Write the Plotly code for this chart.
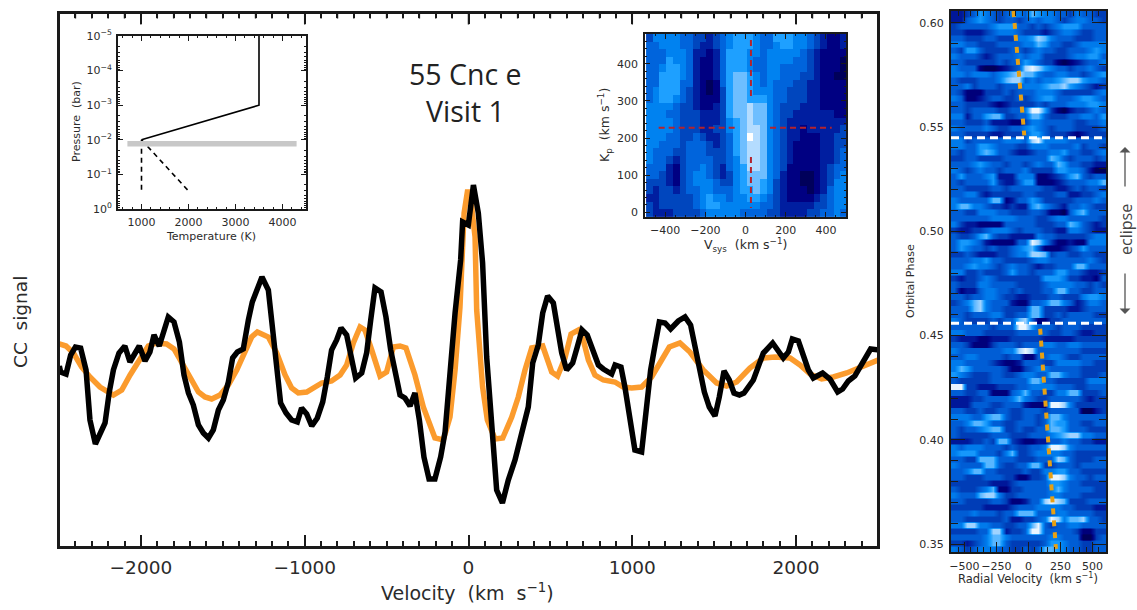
import plotly.graph_objects as go

W, H = 1137, 610

# ---- main cross-correlation panel ----
black_velocity = [-2498,-2490,-2457,-2429,-2400,-2368,-2335,-2311,-2278,-2250,-2219,-2193,-2168,-2134,-2098,-2067,-2010,-1975,-1945,-1920,-1888,-1833,-1798,-1765,-1737,-1710,-1680,-1649,-1619,-1588,-1558,-1527,-1497,-1466,-1440,-1411,-1375,-1344,-1320,-1261,-1222,-1202,-1171,-1147,-1114,-1080,-1045,-1019,-988,-957,-923,-890,-862,-836,-805,-778,-744,-713,-689,-652,-622,-597,-571,-534,-504,-475,-449,-418,-388,-357,-327,-300,-272,-241,-205,-170,-143,-113,-82,-48,-36,-1,30,60,86,111,141,172,207,243,284,325,365,392,426,453,483,518,542,569,599,636,664,693,725,762,793,823,874,895,931,955,986,1016,1057,1088,1112,1139,1165,1200,1234,1281,1322,1356,1383,1409,1440,1470,1505,1531,1560,1592,1621,1654,1682,1739,1770,1800,1857,1892,1922,1953,1977,2014,2044,2075,2105,2162,2207,2254,2284,2319,2359,2406,2455,2502]
black_signal = [1,-5,-7,12,20,19,-3,-53,-77,-66,-56,-25,-3,14,21,5,21,6,15,32,21,50,45,25,-8,-26,-38,-58,-66,-71,-63,-43,-33,-15,9,15,18,47,65,90,77,47,0,-36,-46,-53,-55,-41,-47,-59,-51,-35,-10,17,27,39,32,7,-11,-6,14,47,79,75,50,17,-6,-28,-31,-39,-26,-53,-90,-112,-112,-90,-65,-3,54,107,145,142,182,154,104,10,-63,-123,-136,-113,-93,-68,-40,4,22,54,71,64,37,14,-3,4,20,37,32,14,2,-2,-7,2,0,-20,-56,-83,-85,-43,-3,22,45,44,38,46,50,42,20,0,-25,-40,-49,-30,-4,-13,-26,-28,-26,-13,2,14,24,15,9,15,28,26,10,-3,-11,-6,-12,-25,-22,-14,-9,5,18,17]
orange_velocity = [-2498,-2457,-2412,-2362,-2311,-2250,-2168,-2117,-2066,-2005,-1955,-1904,-1843,-1798,-1751,-1700,-1649,-1609,-1568,-1517,-1466,-1415,-1364,-1324,-1289,-1222,-1171,-1120,-1080,-1039,-988,-947,-896,-836,-784,-744,-703,-662,-632,-591,-540,-500,-459,-418,-382,-327,-276,-205,-154,-113,-82,-52,-27,-7,9,40,50,86,115,162,209,264,304,345,386,453,487,508,544,589,626,671,701,732,772,823,894,945,996,1057,1118,1169,1226,1291,1352,1433,1515,1576,1637,1718,1800,1871,1963,2024,2085,2156,2227,2309,2390,2502]
orange_signal = [23,21,14,0,-10,-20,-28,-23,-8,9,21,24,23,18,5,-10,-25,-30,-32,-28,-18,-3,17,30,35,30,14,-8,-21,-26,-25,-21,-16,-14,-8,2,24,40,37,17,-9,-5,20,21,19,-8,-40,-71,-73,-50,-3,60,154,175,175,130,57,-20,-53,-72,-71,-50,-30,-3,19,21,4,-5,-9,9,33,37,27,7,-8,-13,-15,-20,-21,-20,-10,5,20,24,15,-3,-16,-19,-15,-1,9,10,9,2,-7,-12,-10,-6,0,7]
main_ticks = [-2000,-1000,0,1000,2000]
main_ticktext = ["−2000","−1000","0","1000","2000"]
main_minor_ticks = [v for v in range(-2400, 2500, 100) if v % 1000 != 0]

# ---- temperature-pressure inset ----
tp_solid_t = [3500,3500,1000]
tp_solid_p = [1e-5,1e-3,1e-2]
tp_dash_a_t = [1000,1000]
tp_dash_a_p = [1e-2,0.3]
tp_dash_b_t = [1000,2000]
tp_dash_b_p = [1e-2,0.3]
tp_band_t = [700,4300]
tp_band_p = [0.013,0.013]
tp_xticks = [1000,2000,3000,4000]
tp_yticks = [1e-5,1e-4,1e-3,1e-2,1e-1,1]
tp_yticktext = ["10<sup>−5</sup>","10<sup>−4</sup>","10<sup>−3</sup>","10<sup>−2</sup>","10<sup>−1</sup>","10<sup>0</sup>"]

# ---- Kp-Vsys map (levels 0-9, top row first) ----
kp_rows = [
"355554433234566654466655432112",
"445554432234566654456655432112",
"444555422124666554555554321111",
"444655421124666544555544321110",
"445665421124666544554444321110",
"446665421124677654554443321100",
"446664421014677654544433221111",
"456664321013677655544333221111",
"456654321113677666544333221111",
"555543321123677877543332221111",
"555443332223677877543322222211",
"555543332223567877543222222222",
"555543332233567887543221222223",
"555443343223467987543221112233",
"554443444323467887543211112233",
"544433444333467887543211112234",
"544323444433457887543211112234",
"444213445432456887543111112344",
"443213455432356777542110012345",
"333213455543356776532110012355",
"323323445544456676532111012455",
"223333345655455665432111123455",
"323333345665555554432222233455",
"322233334555554444332222334454",
]
kp_vsys = [-478+33.33*i for i in range(30)]
kp_values = [470-20.5*i for i in range(24)]
kp_h1_v = [-432,-52]; kp_h2_v = [122,429]; kp_h_k = [228,228]
kp_v_v = [27,27]; kp_v1_k = [464,303]; kp_v2_k = [149,12]
kp_xticks = [-400,-200,0,200,400]
kp_xticktext = ["−400","−200","0","200","400"]
kp_yticks = [0,100,200,300,400]

# ---- phase-velocity map (levels 0-9, top row first) ----
phase_rows = [
"223465434554765544354433","224565434434545543455443","344444566644343456664444","332223455543332345543344",
"443334433355687544433344","554433344445576443345555","436643333443454433444565","544432344454553333455664",
"443333343446543310123445","544410012348986544344543","554555456787754455443456","433344457884545567886554",
"445344434445556778654323","431113334344455543333345","541123443343456644456654","443333212333343444555665",
"443444433445996310233454","552446773344774333445546","443334222113554444433445","544445433445654344433334",
"443333223334664333212333","553444445554895555444444","554466544433555444453443","434467644322344556443345",
"334433334444444764344434","444565443443454476443322","543454434445333366554200","464445622255511234674344",
"434444632246611123444557","443333443444443322343443","445532333334433344223345","544444771244653333344454",
"577554332322675432445433","443355544333443110467444","444444555544433455444443","532211114444433344764323",
"322334555434443322554322","433467433222254433333455","466542111144985311211555","465443433456741112346444",
"334322233455887344334433","444556443333455444444543","445655434544323344477444","553343334644344466443223",
"323345433333336665332214","433355444433334555544343","412245544343334477443344","443445543322333443335665",
"345785444211445775423554","444785443333773333223444","443444553344773343444433","543333434478411334444444",
"444444344499644434443333","554443333344444334432233","322211222333332222233333","443111344434445544554444",
"544444445589844444443333","445544443441144554334444","554444321124443355554433","576444443113455444443333",
"654333443345544775443334","433333444444774433333555","993322233344555544433444","443344111457443355773334",
"222334444575433444443233","222444334442111998533333","443343344334443444440023","555446774334434775444444",
"445776443344434766443344","434456773343344776444333","433333444333444567885544","222334377321122445443322",
"545554443433445998544444","566644435733455554433333","443377744433344487433344","544447743344773344434444",
"445774433334335566443333","443334443311334998544344","333333222344444665443333","433345711334444575444433",
"544478853344444554443333","443333443112448987333444","333332222344455554433322","444544434477744455444433",
"443333334223345985778443","558855443344794344554444","333344882334994444431133","444445775444444554440034",
"332345774333334665443344","543455544334347765443344",
]
phase_velocity = [-580+50.4*i for i in range(24)]
phase_row_top = 0.6056
phase_row_step = 0.00288
eclipse_starts = [0.5448,0.4559]
track_upper_v = [-117,-33]; track_upper_p = [0.6056,0.546]
track_lower_v = [91,214]; track_lower_p = [0.4533,0.3478]
phase_xticks = [-500,-250,0,250,500]
phase_xticktext = ["−500","−250","0","250","500"]
phase_yticks = [0.35,0.40,0.45,0.50,0.55,0.60]
phase_yticktext = ["0.35","0.40","0.45","0.50","0.55","0.60"]

palette = ["#00005a","#000082","#001ea0","#0046be","#0064dc","#0082f0","#1ea0ff","#6ebeff","#b4dcff","#ffffff"]
stepped = []
for i, c in enumerate(palette):
    stepped += [[i/10, c], [(i+1)/10, c]]
smooth = [[i/9, c] for i, c in enumerate(palette)]

def levels(rows, n):
    return [[int(ch) for ch in (r + r[-1]*n)[:n]] for r in rows]

# every phase row holds its level over its full height; only the sides are blurred by the renderer
phase_z, phase_y = [], []
for i, row in enumerate(levels(phase_rows, 24)):
    for f in (0.15, 0.5, 0.85):
        phase_z.append(row)
        phase_y.append(phase_row_top - (i + f) * phase_row_step)

def dx(a, b): return [a/W, b/W]
def dy(a, b): return [1-b/H, 1-a/H]

TXT = "#2b2b2b"
F = "DejaVu Sans"

fig = go.Figure()
fig.add_trace(go.Scatter(x=orange_velocity, y=orange_signal, mode="lines", line=dict(color="#fb9b2d", width=5.5), xaxis="x", yaxis="y"))
fig.add_trace(go.Scatter(x=black_velocity, y=black_signal, mode="lines", line=dict(color="black", width=5.5), xaxis="x", yaxis="y"))

fig.add_trace(go.Scatter(x=tp_solid_t, y=tp_solid_p, mode="lines", line=dict(color="black", width=1.6), xaxis="x2", yaxis="y2"))
fig.add_trace(go.Scatter(x=tp_dash_a_t, y=tp_dash_a_p, mode="lines", line=dict(color="black", width=1.6, dash="5px,4px"), xaxis="x2", yaxis="y2"))
fig.add_trace(go.Scatter(x=tp_dash_b_t, y=tp_dash_b_p, mode="lines", line=dict(color="black", width=1.6, dash="5px,4px"), xaxis="x2", yaxis="y2"))
fig.add_trace(go.Scatter(x=tp_band_t, y=tp_band_p, mode="lines", line=dict(color="#c8c8c8", width=5.5), xaxis="x2", yaxis="y2"))

fig.add_trace(go.Heatmap(x=kp_vsys, y=kp_values, z=levels(kp_rows, 30), colorscale=stepped, zmin=-0.5, zmax=9.5, showscale=False, xaxis="x3", yaxis="y3"))
red = dict(color="#b4232d", width=2, dash="6px,4px")
fig.add_trace(go.Scatter(x=kp_h1_v, y=kp_h_k, mode="lines", line=red, xaxis="x3", yaxis="y3"))
fig.add_trace(go.Scatter(x=kp_h2_v, y=kp_h_k, mode="lines", line=red, xaxis="x3", yaxis="y3"))
fig.add_trace(go.Scatter(x=kp_v_v, y=kp_v1_k, mode="lines", line=red, xaxis="x3", yaxis="y3"))
fig.add_trace(go.Scatter(x=kp_v_v, y=kp_v2_k, mode="lines", line=red, xaxis="x3", yaxis="y3"))

fig.add_trace(go.Heatmap(x=phase_velocity, y=phase_y, z=phase_z, colorscale=smooth, zmin=0.2, zmax=9.3, zsmooth="best", showscale=False, xaxis="x4", yaxis="y4"))
for p in eclipse_starts:
    fig.add_trace(go.Scatter(x=[-605, 605], y=[p, p], mode="lines", line=dict(color="white", width=3, dash="8px,5px"), xaxis="x4", yaxis="y4"))
amber = dict(color="#e6a014", width=4, dash="6px,6px")
fig.add_trace(go.Scatter(x=track_upper_v, y=track_upper_p, mode="lines", line=amber, xaxis="x4", yaxis="y4"))
fig.add_trace(go.Scatter(x=track_lower_v, y=track_lower_p, mode="lines", line=amber, xaxis="x4", yaxis="y4"))

def ax(domain, rng, **kw):
    base = dict(domain=domain, range=rng, showgrid=False, zeroline=False, showline=True, mirror="ticks",
                linecolor="#1a1a1a", layer="above traces", ticks="inside", tickcolor="#1a1a1a", fixedrange=True, tickangle=0)
    base.update(kw)
    return base

main_minor = dict(ticks="inside", ticklen=5, tickwidth=1.5, dtick=100, tick0=0, tickcolor="#1a1a1a")

layout = dict(
    width=W, height=H, margin=dict(l=0, r=0, t=0, b=0, autoexpand=False), paper_bgcolor="white", plot_bgcolor="white",
    showlegend=False, font=dict(family=F, color=TXT),
    xaxis=ax(dx(60, 877), [-2494, 2494], anchor="y", linewidth=2.5, tickvals=main_ticks, ticktext=main_ticktext,
             ticklen=11, tickwidth=1.5, tickfont=dict(size=18.5, color=TXT), ticklabelstandoff=4, minor=main_minor),
    yaxis=ax(dy(13.5, 545.5), [-178.5, 353.5], anchor="x", linewidth=2.5, ticks="", showticklabels=False),
    xaxis2=ax(dx(118, 306), [500, 4500], anchor="y2", linewidth=1.8, tickvals=tp_xticks, ticklen=5, tickwidth=1,
              tickfont=dict(size=11, color=TXT), ticklabelstandoff=2,
              minor=dict(ticks="inside", ticklen=2.5, tickwidth=1, dtick=200, tick0=0, tickcolor="#1a1a1a")),
    yaxis2=ax(dy(36, 209), [0, -5], type="log", anchor="x2", linewidth=1.8, tickvals=tp_yticks, ticktext=tp_yticktext,
              ticklen=5, tickwidth=1, tickfont=dict(size=11, color=TXT), ticklabelstandoff=2,
              minor=dict(ticks="inside", ticklen=2.5, tickwidth=1, dtick="D1", tickcolor="#1a1a1a")),
    xaxis3=ax(dx(645, 846), [-500, 500], anchor="y3", linewidth=1.6, tickvals=kp_xticks, ticktext=kp_xticktext, ticklen=5, tickwidth=1,
              tickfont=dict(size=11, color=TXT), ticklabelstandoff=2,
              minor=dict(ticks="inside", ticklen=2.5, tickwidth=1, dtick=50, tick0=0, tickcolor="#1a1a1a")),
    yaxis3=ax(dy(34, 217), [-12.5, 480], anchor="x3", linewidth=1.6, tickvals=kp_yticks, ticklen=5, tickwidth=1,
              tickfont=dict(size=11, color=TXT), ticklabelstandoff=3,
              minor=dict(ticks="inside", ticklen=2.5, tickwidth=1, dtick=20, tick0=0, tickcolor="#1a1a1a")),
    xaxis4=ax(dx(951, 1106), [-605, 605], anchor="y4", linewidth=2, tickvals=phase_xticks, ticktext=phase_xticktext, ticklen=10, tickwidth=1.4,
              tickfont=dict(size=11, color=TXT), ticklabelstandoff=3,
              minor=dict(ticks="inside", ticklen=5, tickwidth=1.4, dtick=50, tick0=0, tickcolor="#1a1a1a")),
    yaxis4=ax(dy(11, 552), [0.3463, 0.6056], anchor="x4", linewidth=2, tickvals=phase_yticks, ticktext=phase_yticktext, ticklen=14, tickwidth=1.4,
              tickfont=dict(size=11, color=TXT), ticklabelstandoff=3,
              minor=dict(ticks="inside", ticklen=7, tickwidth=1.4, dtick=0.01, tick0=0, tickcolor="#1a1a1a")),
)

def top_tick(v, length):
    return dict(type="line", xref="x", yref="paper", x0=v, x1=v, y0=1-13.5/H, y1=1-(13.5+length)/H,
                line=dict(color="#1a1a1a", width=1.5), layer="above")

layout["shapes"] = [top_tick(v, 11) for v in main_ticks] + [top_tick(v, 5) for v in main_minor_ticks]

def note(text, x, y, size, angle=0, family=F, color=TXT):
    return dict(text=text, x=x/W, y=1-y/H, xref="paper", yref="paper", xanchor="center", yanchor="middle",
                showarrow=False, textangle=angle, font=dict(size=size, family=family, color=color))

layout["annotations"] = [
    note("Velocity  (km  s<sup>−1</sup>)", 467, 592, 19),
    note("CC  signal", 20, 322, 18.5, -90),
    note("55 Cnc e", 465, 74, 28.5, family="Open Sans", color="#222222"),
    note("Visit 1", 465, 111, 28.5, family="Open Sans", color="#222222"),
    note("Pressure  (bar)", 77, 122, 11, -90),
    note("Temperature (K)", 211, 236, 11),
    note("V<sub>sys</sub>  (km s<sup>−1</sup>)", 745, 245, 12.5),
    note("K<sub>p</sub>  (km s<sup>−1</sup>)", 605, 125, 12.5, -90),
    note("Orbital Phase", 910, 281, 11, -90),
    note("Radial Velocity  (km s<sup>−1</sup>)", 1028, 578, 11.5),
    note("eclipse", 1126, 230, 16, -90, family="Open Sans", color="#444444"),
    dict(x=1125/W, y=1-147/H, xref="paper", yref="paper", ax=0, ay=41, axref="pixel", ayref="pixel", text="", showarrow=True,
         arrowhead=1, arrowsize=1.4, arrowwidth=1.3, arrowcolor="#555555"),
    dict(x=1125/W, y=1-314/H, xref="paper", yref="paper", ax=0, ay=-42, axref="pixel", ayref="pixel", text="", showarrow=True,
         arrowhead=1, arrowsize=1.4, arrowwidth=1.3, arrowcolor="#555555"),
]
fig.update_layout(**layout)

fig.write_html("out.html", config={"displayModeBar": False},
               post_script="document.body.style.margin='0';document.body.style.overflow='hidden';")
